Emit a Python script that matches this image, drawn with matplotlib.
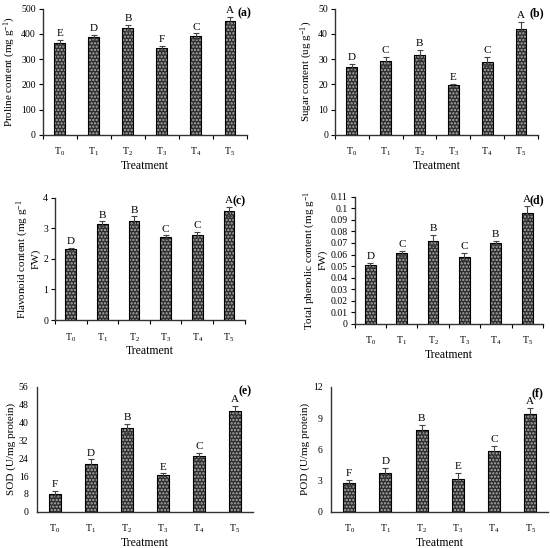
import matplotlib
matplotlib.use("Agg")
import matplotlib.pyplot as plt
import numpy as np

plt.rcParams['font.family'] = ['Liberation Serif', 'DejaVu Serif']
plt.rcParams['mathtext.fontset'] = 'custom'
plt.rcParams['mathtext.rm'] = 'Liberation Serif'
plt.rcParams['mathtext.it'] = 'Liberation Serif:italic'
plt.rcParams['mathtext.bf'] = 'Liberation Serif:bold'
plt.rcParams['hatch.linewidth'] = 1.1

categories = ['T$_0$', 'T$_1$', 'T$_2$', 'T$_3$', 'T$_4$', 'T$_5$']

proline = [365, 387, 425, 343, 392, 450]
proline_err = [10, 10, 12, 8, 10, 16]
proline_let = ['E', 'D', 'B', 'F', 'C', 'A']

sugar = [27, 29.2, 31.8, 19.6, 29, 42]
sugar_err = [1.2, 1.8, 2.0, 0.7, 1.8, 2.6]
sugar_let = ['D', 'C', 'B', 'E', 'C', 'A']

flavonoid = [2.31, 3.15, 3.25, 2.71, 2.78, 3.56]
flavonoid_err = [0.05, 0.08, 0.14, 0.06, 0.11, 0.15]
flavonoid_let = ['D', 'B', 'B', 'C', 'C', 'A']

phenolic = [0.051, 0.061, 0.072, 0.058, 0.070, 0.096]
phenolic_err = [0.002, 0.002, 0.005, 0.003, 0.002, 0.006]
phenolic_let = ['D', 'C', 'B', 'C', 'B', 'A']

sod = [8, 21.5, 37.5, 16.6, 24.9, 45]
sod_err = [1.2, 2.0, 2.0, 0.6, 1.6, 2.6]
sod_let = ['F', 'D', 'B', 'E', 'C', 'A']

pod = [2.75, 3.75, 7.9, 3.2, 5.8, 9.4]
pod_err = [0.3, 0.45, 0.45, 0.5, 0.5, 0.6]
pod_let = ['F', 'D', 'B', 'E', 'C', 'A']

panels = [
    dict(vals=proline, err=proline_err, let=proline_let, ylim=500, yticks=np.arange(0, 501, 100),
         ylabel='Proline content (mg g$^{-1}$)', tag='(a)', tagpos=(0.99, 1.01),
         pos=[0.078, 0.754, 0.371, 0.230], ticks=True, fmt=None, bw=0.32),
    dict(vals=sugar, err=sugar_err, let=sugar_let, ylim=50, yticks=np.arange(0, 51, 10),
         ylabel='Sugar content (ug g$^{-1}$)', tag='(b)', tagpos=(0.995, 1.01),
         pos=[0.609, 0.754, 0.369, 0.230], ticks=True, fmt=None, bw=0.32),
    dict(vals=flavonoid, err=flavonoid_err, let=flavonoid_let, ylim=4, yticks=np.arange(0, 5, 1),
         ylabel='Flavonoid content (mg g$^{-1}$\nFW)', tag='(c)', tagpos=(0.97, 1.02),
         pos=[0.100, 0.416, 0.345, 0.223], ticks=True, fmt=None, bw=0.34),
    dict(vals=phenolic, err=phenolic_err, let=phenolic_let, ylim=0.11, yticks=np.linspace(0, 0.11, 12),
         ylabel='Total phenolic content (mg g$^{-1}$\nFW)', tag='(d)', tagpos=(0.97, 1.02),
         pos=[0.645, 0.409, 0.342, 0.232], ticks=True, fmt='phen', bw=0.34),
    dict(vals=sod, err=sod_err, let=sod_let, ylim=56, yticks=np.arange(0, 57, 8),
         ylabel='SOD (U/mg protein)', tag='(e)', tagpos=(0.965, 1.01),
         pos=[0.067, 0.066, 0.393, 0.228], ticks=False, fmt=None, bw=0.33),
    dict(vals=pod, err=pod_err, let=pod_let, ylim=12, yticks=np.arange(0, 13, 3),
         ylabel='POD (U/mg protein)', tag='(f)', tagpos=(0.95, 1.0),
         pos=[0.602, 0.066, 0.395, 0.228], ticks=False, fmt=None, bw=0.33),
]

fig = plt.figure(figsize=(5.5, 5.48), dpi=100)

for p in panels:
    ax = fig.add_axes(p['pos'])
    x = np.arange(len(categories))
    ax.bar(x, p['vals'], width=p['bw'], color='#2c2c2c', edgecolor='#b0b0b0', hatch='.....', linewidth=0, zorder=2)
    ax.bar(x, p['vals'], width=p['bw'], color='none', edgecolor='black', linewidth=0.8,
           yerr=p['err'], error_kw=dict(ecolor='#444444', elinewidth=0.8, capsize=2.5, capthick=0.8), zorder=3)
    for xi, v, e, l in zip(x, p['vals'], p['err'], p['let']):
        ax.text(xi, v + e + p['ylim'] * 0.015, l, ha='center', va='bottom', fontsize=8)
    ax.set_xlim(-0.5, len(categories) - 0.5)
    ax.set_ylim(0, p['ylim'])
    ax.set_yticks(p['yticks'])
    if p['fmt'] == 'phen':
        ax.set_yticklabels(['0'] + ['%g' % round(t, 2) for t in p['yticks'][1:]])
    ax.set_xticks(x)
    ax.set_xticklabels(categories)
    for s in ['top', 'right']:
        ax.spines[s].set_visible(False)
    for s in ['left', 'bottom']:
        ax.spines[s].set_color('#333333')
        ax.spines[s].set_linewidth(1.0)
    if p['ticks']:
        ax.tick_params(axis='y', direction='out', length=3, width=0.8, labelsize=7, pad=2)
        ax.tick_params(axis='x', length=0, labelsize=7, pad=8)
        ax.set_xticks(np.arange(-0.5, len(categories) + 0.5, 1), minor=True)
        ax.tick_params(axis='x', which='minor', direction='out', length=3, width=0.8)
    else:
        ax.tick_params(axis='y', length=0, labelsize=7, pad=6)
        ax.tick_params(axis='x', length=0, labelsize=7, pad=8)
    ax.set_xlabel('Treatment', fontsize=8.5, labelpad=1)
    ax.set_ylabel(p['ylabel'], fontsize=8, labelpad=2, linespacing=1.0)
    ax.text(p['tagpos'][0], p['tagpos'][1], p['tag'], transform=ax.transAxes, ha='center', va='top',
            fontsize=8.5, fontweight='bold')

fig.savefig('out.png', dpi=100)
